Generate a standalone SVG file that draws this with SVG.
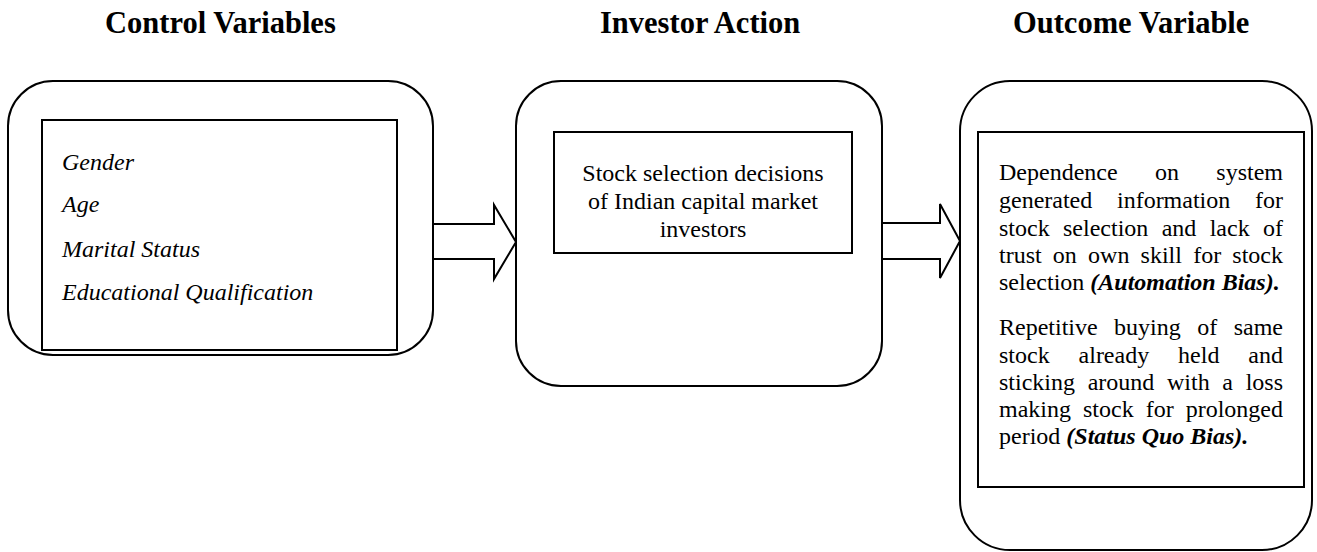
<svg xmlns="http://www.w3.org/2000/svg" width="1317" height="552" viewBox="0 0 1317 552">
<style>
.title{font-family:"Liberation Serif","Times New Roman",serif;font-weight:bold;font-size:30.5px;fill:#000}
.body{font-family:"Liberation Serif","Times New Roman",serif;font-size:24px;fill:#000}
.it{font-style:italic}
.bi{font-style:italic;font-weight:bold}
.outer{fill:#fff;stroke:#000;stroke-width:2}
.inner{fill:#fff;stroke:#000;stroke-width:2}
.arrow{fill:none;stroke:#000;stroke-width:2;stroke-linejoin:miter}
</style>
<rect width="1317" height="552" fill="#fff"/>
<g id="titles">
<text class="title" x="105" y="33">Control Variables</text>
<text class="title" x="600" y="33">Investor Action</text>
<text class="title" x="1013" y="33">Outcome Variable</text>
</g>
<g id="control-variables">
<rect class="outer" x="8" y="81" width="425" height="274" rx="45" ry="45"/>
<rect class="inner" x="42" y="120" width="355" height="230"/>
<text class="body it" x="62" y="170">Gender</text>
<text class="body it" x="62" y="212">Age</text>
<text class="body it" x="62" y="257">Marital Status</text>
<text class="body it" x="62" y="300">Educational Qualification</text>
</g>
<g id="investor-action">
<rect class="outer" x="516" y="81" width="366" height="305" rx="45" ry="45"/>
<rect class="inner" x="554" y="132" width="298" height="121"/>
<text class="body" text-anchor="middle" x="703" y="181">Stock selection decisions</text>
<text class="body" text-anchor="middle" x="703" y="209">of Indian capital market</text>
<text class="body" text-anchor="middle" x="703" y="237">investors</text>
</g>
<g id="outcome-variable">
<rect class="outer" x="960" y="81" width="352" height="469" rx="50" ry="50"/>
<rect class="inner" x="978" y="132" width="326" height="355"/>
<text class="body" x="999" y="180" word-spacing="31.35">Dependence on system</text>
<text class="body" x="999" y="208" word-spacing="18.7">generated information for</text>
<text class="body" x="999" y="236" word-spacing="7.35">stock selection and lack of</text>
<text class="body" x="999" y="263" word-spacing="5.2">trust on own skill for stock</text>
<text class="body" x="999" y="290">selection <tspan class="bi">(Automation Bias).</tspan></text>
<text class="body" x="999" y="335" word-spacing="10.47">Repetitive buying of same</text>
<text class="body" x="999" y="363" word-spacing="22.9">stock already held and</text>
<text class="body" x="999" y="390" word-spacing="6.67">sticking around with a loss</text>
<text class="body" x="999" y="417" word-spacing="6">making stock for prolonged</text>
<text class="body" x="999" y="444">period <tspan class="bi">(Status Quo Bias).</tspan></text>
</g>
<g id="connectors">
<polyline class="arrow" points="433,224 494,224 494,205 516,242 494,279 494,259 433,259"/>
<polyline class="arrow" points="882,223 940,223 940,204 960,241 940,278 940,259 882,259"/>
</g>
</svg>
